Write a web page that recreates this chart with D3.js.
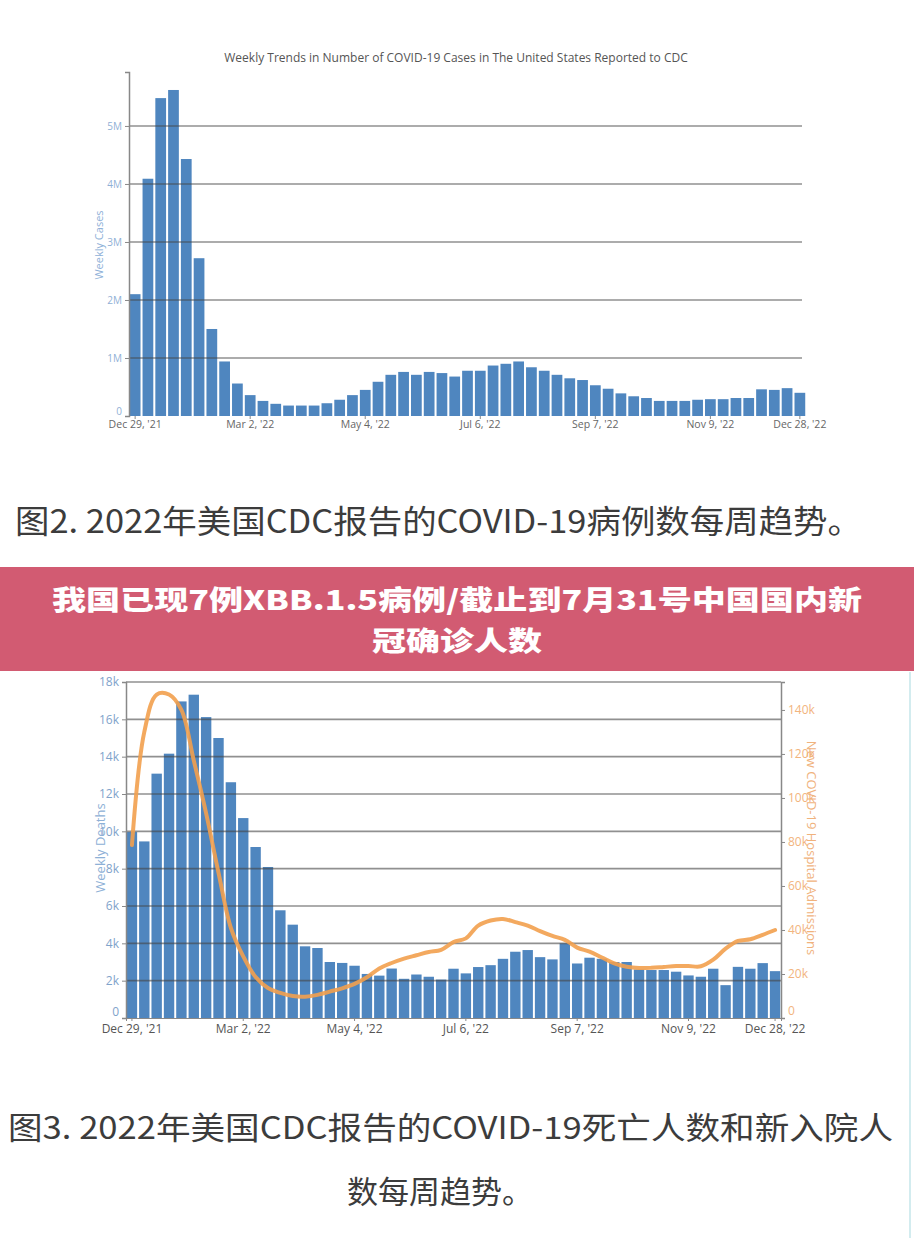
<!DOCTYPE html>
<html>
<head>
<meta charset="utf-8">
<script src="https://cdn.jsdelivr.net/npm/d3@7"></script>
<style>
  body { margin: 0; background: #fff; }
  svg text { font-family: "Open Sans", "Noto Sans", sans-serif; }
</style>
</head>
<body>
<div id="chart"></div>
<script>
// week categories: Dec 29 '21 .. Dec 28 '22 (53 weeks)
const weeks = d3.range(53);
const tickWeeks = [0, 9, 18, 27, 36, 45, 52];
const tickLabels = ["Dec 29, '21", "Mar 2, '22", "May 4, '22", "Jul 6, '22", "Sep 7, '22", "Nov 9, '22", "Dec 28, '22"];

// weekly cases, millions
const weeklyCases = [2.10, 4.09, 5.48, 5.62, 4.43, 2.72, 1.50, 0.94, 0.56, 0.36,
  0.26, 0.21, 0.18, 0.18, 0.18, 0.22, 0.28, 0.36, 0.45, 0.59,
  0.71, 0.76, 0.71, 0.76, 0.74, 0.68, 0.78, 0.78, 0.87, 0.90,
  0.94, 0.84, 0.78, 0.71, 0.65, 0.62, 0.53, 0.47, 0.39, 0.34,
  0.31, 0.26, 0.26, 0.26, 0.28, 0.29, 0.29, 0.31, 0.31, 0.46,
  0.45, 0.48, 0.40];
const casesTicks = [0, 1, 2, 3, 4, 5];

// weekly deaths, thousands
const weeklyDeaths = [9.96, 9.46, 13.09, 14.16, 16.96, 17.32, 16.12, 15.0, 12.63, 10.71,
  9.16, 8.09, 5.77, 5.0, 3.84, 3.75, 3.0, 2.95, 2.8, 2.36,
  2.27, 2.65, 2.10, 2.33, 2.21, 2.06, 2.64, 2.39, 2.73, 2.83,
  3.17, 3.55, 3.64, 3.26, 3.14, 4.0, 2.92, 3.23, 3.17, 3.0,
  3.0, 2.6, 2.57, 2.57, 2.48, 2.28, 2.21, 2.64, 1.76, 2.74,
  2.64, 2.94, 2.51];
const deathTicks = [0, 2, 4, 6, 8, 10, 12, 14, 16, 18];

// new hospital admissions, thousands
const admissions = [78.6, 130, 147, 147, 140, 117, 93, 66, 41, 28,
  18.6, 13.6, 11.4, 10, 9.7, 10.5, 12, 13.5, 15.5, 18.5,
  22.5, 25, 27, 28.5, 30, 31, 34.5, 36.2, 42, 44.3,
  45, 43.6, 42, 39.5, 37.3, 35.5, 32, 30.2, 27.5, 24.8,
  23.3, 22.7, 22.8, 23.2, 23.6, 23.6, 23.5, 26.5, 31.5, 35,
  35.8, 37.8, 40];
const admTicks = [0, 20, 40, 60, 80, 100, 120, 140];

const barColor = "#4f86bf";
const gridColor = "rgba(70,70,70,0.6)";

const svg = d3.select("#chart").append("svg")
  .attr("width", 914).attr("height", 1238);

svg.append("rect").attr("width", 914).attr("height", 1238).attr("fill", "#fff");

// ---------- chart 1: weekly cases ----------
let x1 = d3.scaleBand().domain(weeks).range([129, 806]).paddingInner(0.16).paddingOuter(0.06);
let y1 = d3.scaleLinear().domain([0, 5.93]).range([416, 72]);

svg.append("text")
  .attr("x", 456).attr("y", 58).attr("dy", "0.35em")
  .attr("text-anchor", "middle")
  .style("font-size", "12px").style("fill", "#555")
  .text("Weekly Trends in Number of COVID-19 Cases in The United States Reported to CDC");

let g1 = svg.append("g");
g1.selectAll(".caseBar").data(weeklyCases).enter().append("rect")
  .attr("class", "caseBar")
  .attr("x", (d, i) => x1(i))
  .attr("width", x1.bandwidth())
  .attr("y", d => y1(d))
  .attr("height", d => y1(0) - y1(d))
  .style("fill", barColor);

g1.selectAll(".grid1").data(casesTicks.filter(d => d > 0)).enter().append("line")
  .attr("x1", 129).attr("x2", 802)
  .attr("y1", d => y1(d)).attr("y2", d => y1(d))
  .style("stroke", gridColor).style("stroke-width", 1.6);

let yAx1 = svg.append("g").attr("transform", "translate(129,0)")
  .call(d3.axisLeft(y1).tickValues(casesTicks).tickFormat(d => d ? d + "M" : "0").tickSize(4));
yAx1.select(".domain").style("stroke", "#888").style("stroke-width", 1.5);
yAx1.selectAll(".tick line").style("stroke", "#888");
yAx1.selectAll("text").style("font-size", "10px").style("fill", "#90b0d6")
  .attr("dy", d => d ? "0.32em" : "-0.2em");

let xAx1 = svg.append("g").attr("transform", "translate(0,416)")
  .call(d3.axisBottom(x1).tickValues(tickWeeks).tickFormat((d, i) => tickLabels[i]).tickSize(3));
xAx1.select(".domain").remove();
xAx1.selectAll(".tick line").style("stroke", "#888");
xAx1.selectAll("text").attr("y", 5).style("font-size", "10.5px").style("fill", "#666");

svg.append("text")
  .attr("transform", "translate(99,245) rotate(-90)")
  .attr("text-anchor", "middle").attr("dy", "0.35em")
  .style("font-size", "11px").style("fill", "#8fb1d8")
  .text("Weekly Cases");

// caption 1
svg.append("text")
  .attr("x", 15).attr("y", 521).attr("dy", "0.36em")
  .attr("textLength", 847).attr("lengthAdjust", "spacingAndGlyphs")
  .style("font-family", "'Noto Sans CJK SC', sans-serif")
  .style("font-size", "32px").style("fill", "#3c3c3c")
  .text("图2. 2022年美国CDC报告的COVID-19病例数每周趋势。");

// ---------- banner ----------
svg.append("rect").attr("x", 0).attr("y", 567).attr("width", 914).attr("height", 104)
  .style("fill", "#d25b72");
svg.append("text")
  .attr("x", 52).attr("y", 600).attr("dy", "0.36em")
  .attr("textLength", 810).attr("lengthAdjust", "spacingAndGlyphs")
  .style("font-family", "'Noto Sans CJK SC', sans-serif").style("font-weight", 900)
  .style("font-size", "27px").style("fill", "#fff")
  .text("我国已现7例XBB.1.5病例/截止到7月31号中国国内新");
svg.append("text")
  .attr("x", 372).attr("y", 641).attr("dy", "0.36em")
  .attr("textLength", 170).attr("lengthAdjust", "spacingAndGlyphs")
  .style("font-family", "'Noto Sans CJK SC', sans-serif").style("font-weight", 900)
  .style("font-size", "27px").style("fill", "#fff")
  .text("冠确诊人数");

// ---------- chart 2: weekly deaths + admissions ----------
let x2 = d3.scaleBand().domain(weeks).range([126, 781]).paddingInner(0.16).paddingOuter(0.06);
let yL = d3.scaleLinear().domain([0, 18]).range([1018, 682]);
let yR = d3.scaleLinear().domain([0, 152.7]).range([1018, 682]);

let g2 = svg.append("g");
g2.selectAll(".deathBar").data(weeklyDeaths).enter().append("rect")
  .attr("class", "deathBar")
  .attr("x", (d, i) => x2(i))
  .attr("width", x2.bandwidth())
  .attr("y", d => yL(d))
  .attr("height", d => yL(0) - yL(d))
  .style("fill", barColor);

g2.selectAll(".grid2").data(deathTicks.filter(d => d > 0)).enter().append("line")
  .attr("x1", 126).attr("x2", 781)
  .attr("y1", d => yL(d)).attr("y2", d => yL(d))
  .style("stroke", gridColor).style("stroke-width", 1.6);

let admLine = d3.line()
  .x((d, i) => x2(i) + x2.bandwidth() / 2)
  .y(d => yR(d))
  .curve(d3.curveCatmullRom.alpha(0.5));

g2.append("path")
  .attr("d", admLine(admissions))
  .style("fill", "none").style("stroke", "#f2a04e")
  .style("stroke-width", 4).style("stroke-opacity", 0.9)
  .style("stroke-linecap", "round");

let yAxL = svg.append("g").attr("transform", "translate(126,0)")
  .call(d3.axisLeft(yL).tickValues(deathTicks).tickFormat(d => d ? d + "k" : "0").tickSize(4));
yAxL.select(".domain").style("stroke", "#888").style("stroke-width", 1.5);
yAxL.selectAll(".tick line").style("stroke", "#888");
yAxL.selectAll("text").style("font-size", "12px").style("fill", "#7fa3cb")
  .attr("dy", d => d ? "0.32em" : "-0.25em");

let yAxR = svg.append("g").attr("transform", "translate(781,0)")
  .call(d3.axisRight(yR).tickValues(admTicks).tickFormat(d => d ? d + "k" : "0").tickSize(4));
yAxR.select(".domain").style("stroke", "#888").style("stroke-width", 1.5);
yAxR.selectAll(".tick line").style("stroke", "#888");
yAxR.selectAll("text").style("font-size", "12px").style("fill", "#f2b47e")
  .attr("dy", d => d ? "0.32em" : "-0.3em");

let xAx2 = svg.append("g").attr("transform", "translate(0,1018)")
  .call(d3.axisBottom(x2).tickValues(tickWeeks).tickFormat((d, i) => tickLabels[i]).tickSize(3));
xAx2.select(".domain").style("stroke", "#888");
xAx2.selectAll(".tick line").style("stroke", "#888");
xAx2.selectAll("text").attr("y", 6).style("font-size", "12px").style("fill", "#555");

svg.append("text")
  .attr("transform", "translate(100,848) rotate(-90)")
  .attr("text-anchor", "middle").attr("dy", "0.35em")
  .style("font-size", "13px").style("fill", "#8db0d6")
  .text("Weekly Deaths");

svg.append("text")
  .attr("transform", "translate(812,848) rotate(90)")
  .attr("text-anchor", "middle").attr("dy", "0.35em")
  .style("font-size", "13px").style("fill", "#f0b27c")
  .text("New COVID-19 Hospital Admissions");

// light frame edge on the right of the second picture
svg.append("line").attr("x1", 910).attr("x2", 910).attr("y1", 672).attr("y2", 1238)
  .style("stroke", "#d3ecef").style("stroke-width", 2);

// caption 2
svg.append("text")
  .attr("x", 8).attr("y", 1128).attr("dy", "0.36em")
  .attr("textLength", 885).attr("lengthAdjust", "spacingAndGlyphs")
  .style("font-family", "'Noto Sans CJK SC', sans-serif")
  .style("font-size", "31px").style("fill", "#3c3c3c")
  .text("图3. 2022年美国CDC报告的COVID-19死亡人数和新入院人");
svg.append("text")
  .attr("x", 440).attr("y", 1192).attr("dy", "0.36em").attr("text-anchor", "middle")
  .style("font-family", "'Noto Sans CJK SC', sans-serif")
  .style("font-size", "31px").style("fill", "#3c3c3c")
  .text("数每周趋势。");
</script>
</body>
</html>
